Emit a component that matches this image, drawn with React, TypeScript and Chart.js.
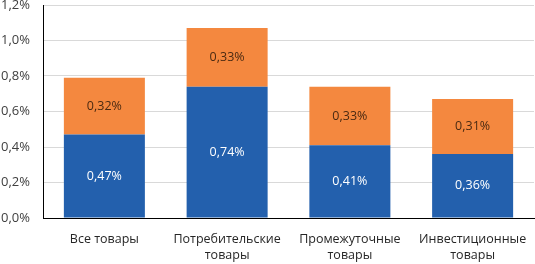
import React, { useEffect, useRef } from "react";
import { Chart, registerables } from "chart.js";

Chart.register(...registerables);

const categories: string[][] = [
  ["Все товары"],
  ["Потребительские", "товары"],
  ["Промежуточные", "товары"],
  ["Инвестиционные", "товары"],
];
const baseValues = [0.47, 0.74, 0.41, 0.36];
const topValues = [0.32, 0.33, 0.33, 0.31];
const yTicks = [0, 0.2, 0.4, 0.6, 0.8, 1.0, 1.2];

const FONT = "'Open Sans', 'DejaVu Sans', sans-serif";
const fmt = (v: number, d: number) => v.toFixed(d).replace(".", ",") + "%";

const labelPlugin = {
  id: "segLabels",
  afterDatasetsDraw(chart: any) {
    const ctx = chart.ctx;
    ctx.save();
    ctx.font = `12.5px ${FONT}`;
    ctx.textAlign = "center";
    ctx.textBaseline = "middle";
    chart.data.datasets.forEach((ds: any, di: number) => {
      const meta = chart.getDatasetMeta(di);
      meta.data.forEach((el: any, i: number) => {
        const p = el.getProps(["x", "y", "base"], true);
        const cy = (p.y + p.base) / 2;
        ctx.fillStyle = di === 0 ? "#ffffff" : "#4a2a12";
        ctx.fillText(fmt(ds.data[i], 2), p.x, cy);
      });
    });
    ctx.restore();
  },
};

export default function App() {
  const ref = useRef<HTMLCanvasElement>(null);
  useEffect(() => {
    const chart = new Chart(ref.current!, {
      type: "bar",
      data: {
        labels: categories,
        datasets: [
          {
            label: "base",
            data: baseValues,
            backgroundColor: "#2360ad",
            categoryPercentage: 0.66,
            barPercentage: 1,
          },
          {
            label: "top",
            data: topValues,
            backgroundColor: "#f4883f",
            categoryPercentage: 0.66,
            barPercentage: 1,
          },
        ],
      },
      options: {
        animation: false,
        responsive: false,
        maintainAspectRatio: false,
        layout: { padding: { top: 5, right: 1, left: 0, bottom: 0 } },
        plugins: {
          legend: { display: false },
          tooltip: { enabled: false },
        },
        scales: {
          x: {
            stacked: true,
            grid: { display: false },
            border: { display: true, color: "#000000", width: 1 },
            ticks: {
              color: "#262626",
              font: { family: FONT, size: 12.5, lineHeight: 1.25 },
              padding: 6,
              maxRotation: 0,
              autoSkip: false,
            },
            afterFit: (s: any) => {
              s.height = 46;
              s.paddingLeft = 0;
              s.paddingRight = 0;
            },
          },
          y: {
            stacked: true,
            min: 0,
            max: 1.2,
            afterBuildTicks: (s: any) => {
              s.ticks = yTicks.map((v) => ({ value: v }));
            },
            grid: { color: "#d9d9d9", drawTicks: false },
            border: { display: true, color: "#000000", width: 1 },
            ticks: {
              color: "#404040",
              font: { family: FONT, size: 13 },
              padding: 13,
              callback: (v: any) => fmt(Number(v), 1),
            },
            afterFit: (s: any) => {
              s.width = 43;
              s.paddingTop = 0;
              s.paddingBottom = 0;
            },
          },
        },
      },
      plugins: [labelPlugin],
    });
    return () => chart.destroy();
  }, []);
  return (
    <div style={{ position: "fixed", left: 0, top: 0, width: 535, height: 264, background: "#fff" }}>
      <canvas ref={ref} width={535} height={264} style={{ width: 535, height: 264 }} />
    </div>
  );
}
